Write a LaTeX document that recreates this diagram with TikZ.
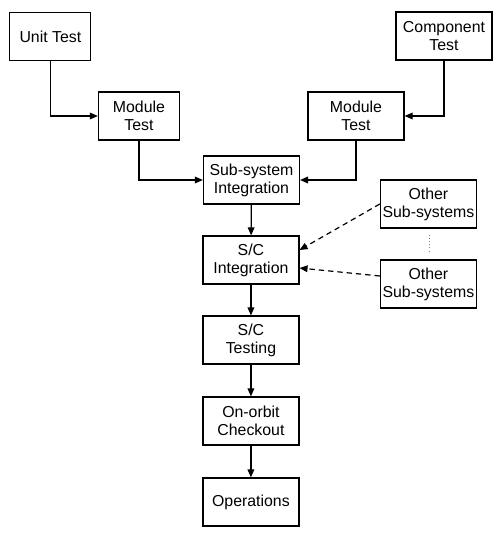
\documentclass[tikz,border=0pt]{standalone}
\usepackage{fontspec}
\setmainfont{Liberation Sans}
\usetikzlibrary{arrows.meta}
\begin{document}
\begin{tikzpicture}[
    node distance=60pt,
    stage/.style={rectangle, draw, line width=0.9pt, align=center, inner sep=0pt, minimum width=72pt, minimum height=36pt, font=\fontsize{11.9}{13.6}\selectfont},
    narrow/.style={stage, minimum width=60.75pt},
    arrow/.style={line width=0.9pt, -{Triangle[length=6pt,width=5pt]}},
    feed/.style={arrow, dash pattern=on 4pt off 3pt}
]
    \useasboundingbox (-188.6pt,-265.5pt) rectangle (184.9pt,135pt);

    % Main line
    \node [stage] (sub) {Sub-system\\Integration};
    \node [stage, below of=sub, xshift=-0.4pt] (integ) {S/C\\Integration};
    \node [stage, below of=integ] (testing) {S/C\\Testing};
    \node [stage, below of=testing, yshift=-0.75pt] (checkout) {On-orbit\\Checkout};
    \node [stage, below of=checkout, yshift=-0.75pt] (ops) {Operations};

    % Module branches
    \node [narrow, above of=sub, xshift=-84.4pt, yshift=-12pt] (modl) {Module\\Test};
    \node [narrow, above of=modl, xshift=-66.4pt, yshift=-0.4pt] (unit) {Unit Test};
    \node [stage, above of=sub, xshift=78.4pt, yshift=-12pt] (modr) {Module\\Test};
    \node [stage, above of=modr, xshift=66pt] (comp) {Component\\Test};

    % Other sub-systems
    \node [stage, right of=integ, xshift=73.1pt, yshift=-18pt] (other2) {Other\\Sub-systems};
    \node [stage, above of=other2] (other1) {Other\\Sub-systems};

    % Arrows
    \draw [arrow] (unit) |- (modl);
    \draw [arrow] (comp) |- (modr);
    \draw [arrow] (modl) |- (sub);
    \draw [arrow] (modr) |- (sub);
    \draw [arrow] (sub) -- (integ);
    \draw [arrow] (integ) -- (testing);
    \draw [arrow] (testing) -- (checkout);
    \draw [arrow] (checkout) -- (ops);
    \draw [feed] (other1.west) -- ([yshift=7.5pt]integ.east);
    \draw [feed] ([yshift=6pt]other2.west) -- ([yshift=-6pt]integ.east);
    \draw [line width=0.4pt, dotted, gray] ([xshift=1pt, yshift=-4.5pt]other1.south) -- ([xshift=1pt, yshift=5.25pt]other2.north);
\end{tikzpicture}
\end{document}
